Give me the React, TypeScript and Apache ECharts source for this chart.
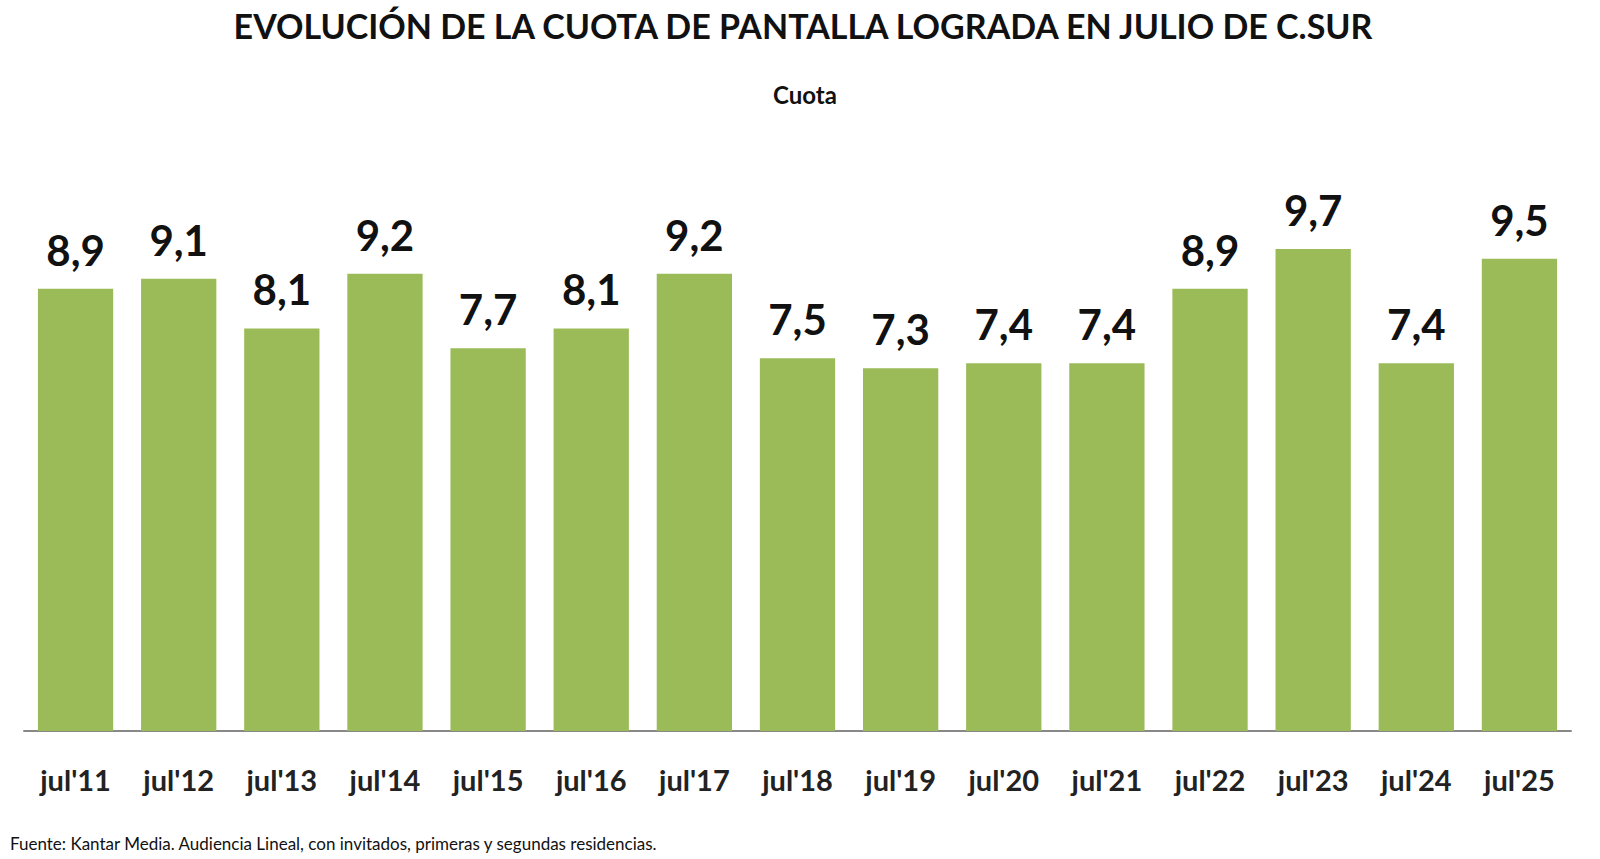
import React from 'react';
import * as echarts from 'echarts';

const categories = ["jul'11", "jul'12", "jul'13", "jul'14", "jul'15", "jul'16", "jul'17", "jul'18", "jul'19", "jul'20", "jul'21", "jul'22", "jul'23", "jul'24", "jul'25"];
const cuota = [8.9, 9.1, 8.1, 9.2, 7.7, 8.1, 9.2, 7.5, 7.3, 7.4, 7.4, 8.9, 9.7, 7.4, 9.5];

const FONT = 'Lato';

const App = () => {
  const chartRef = React.useRef(null);

  React.useEffect(() => {
    const myChart = echarts.init(chartRef.current, null, { renderer: 'svg' });

    const option: any = {
      animation: false,
      backgroundColor: '#ffffff',
      textStyle: { fontFamily: FONT },
      title: [
        {
          text: 'EVOLUCIÓN DE LA CUOTA DE PANTALLA LOGRADA EN JULIO DE C.SUR',
          left: 798,
          top: 3,
          textAlign: 'center',
          textStyle: { fontFamily: FONT, fontSize: 34, fontWeight: 'bold', color: '#111' },
        },
        {
          text: 'Cuota',
          left: 800,
          top: 77,
          textAlign: 'center',
          textStyle: { fontFamily: FONT, fontSize: 24, fontWeight: 'bold', color: '#111' },
        },
        {
          text: 'Fuente: Kantar Media. Audiencia Lineal, con invitados, primeras y segundas residencias.',
          left: 5,
          top: 830,
          textStyle: { fontFamily: FONT, fontSize: 17, fontWeight: 'normal', color: '#111' },
        },
      ],
      grid: {
        left: 24,
        right: 29,
        top: 234,
        bottom: 128,
        containLabel: false,
      },
      xAxis: {
        type: 'category',
        data: categories,
        axisLine: { show: true, lineStyle: { color: '#888', width: 2 } },
        axisTick: { show: false },
        axisLabel: {
          margin: 34,
          fontFamily: FONT,
          fontSize: 29,
          fontWeight: 'bold',
          color: '#222',
        },
      },
      yAxis: {
        type: 'value',
        min: 0,
        max: 10,
        show: false,
        splitLine: { show: false },
      },
      series: [
        {
          type: 'bar',
          data: cuota,
          barCategoryGap: '27%',
          itemStyle: { color: '#9bbb59' },
          label: {
            show: true,
            position: 'top',
            distance: 18,
            fontFamily: FONT,
            fontSize: 42,
            fontWeight: 'bold',
            color: '#111',
            formatter: (p: any) => p.value.toFixed(1).replace('.', ','),
          },
        },
      ],
    };

    myChart.setOption(option);

    return () => {
      myChart.dispose();
    };
  }, []);

  return (
    <div
      ref={chartRef}
      style={{
        position: 'absolute',
        left: 0,
        top: 0,
        width: '1600px',
        height: '859px',
      }}
    />
  );
};

export default App;
